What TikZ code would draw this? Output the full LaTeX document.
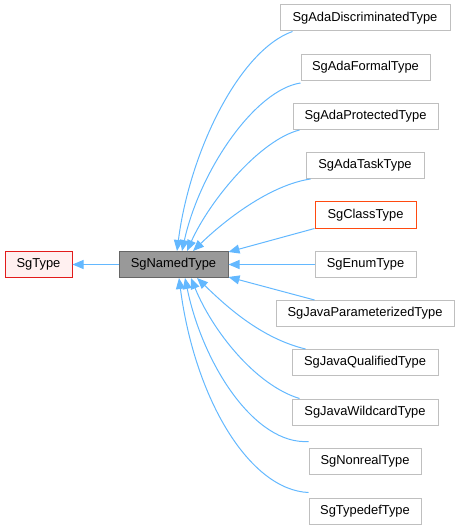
\documentclass[tikz,border=0pt]{standalone}
\usepackage{fontspec}
\setmainfont{Liberation Sans}
\usetikzlibrary{arrows.meta}
\definecolor{edgeblue}{HTML}{63B8FF}
\definecolor{boxgray}{HTML}{BFBFBF}
\definecolor{redborder}{HTML}{E21B1B}
\definecolor{redfill}{HTML}{FFF0F0}
\definecolor{namedfill}{HTML}{999999}
\definecolor{nameddraw}{HTML}{666666}
\definecolor{orangeborder}{HTML}{FF4A10}
\tikzset{
  cls/.style={draw=boxgray, line width=1pt, fill=white, minimum height=26pt, inner sep=0pt, font=\fontsize{12.9}{15}\selectfont, anchor=center},
  edge/.style={draw=edgeblue, line width=1pt, -{Triangle[length=11pt,width=9pt]}},
}
\begin{document}
\begin{tikzpicture}[x=1pt,y=-1pt]
\useasboundingbox (0,0) rectangle (460,529);
% nodes
\node[cls, draw=redborder, fill=redfill, minimum width=67pt] (type) at (38.5,264.5) {SgType};
\node[cls, draw=nameddraw, fill=namedfill, minimum width=109pt] (named) at (173.5,264.5) {SgNamedType};
\node[cls, minimum width=170pt] (disc) at (365,18) {SgAdaDiscriminatedType};
\node[cls, minimum width=129pt] (formal) at (365.5,67.5) {SgAdaFormalType};
\node[cls, minimum width=145pt] (prot) at (365.5,116.5) {SgAdaProtectedType};
\node[cls, minimum width=118pt] (task) at (365,165.5) {SgAdaTaskType};
\node[cls, draw=orangeborder, minimum width=101pt] (class) at (365.5,215) {SgClassType};
\node[cls, minimum width=101pt] (enum) at (365.5,264.5) {SgEnumType};
\node[cls, minimum width=178pt] (jparam) at (365,313.5) {SgJavaParameterizedType};
\node[cls, minimum width=146pt] (jqual) at (365,362.5) {SgJavaQualifiedType};
\node[cls, minimum width=146pt] (jwild) at (365,412) {SgJavaWildcardType};
\node[cls, minimum width=112pt] (nonreal) at (365,461) {SgNonrealType};
\node[cls, minimum width=112pt] (typedef) at (365,511) {SgTypedefType};
% coordinates on the boxes
\coordinate (ndisc) at ([xshift=13pt]disc.south west);
\coordinate (nformal) at ([yshift=-2pt]formal.south west);
\coordinate (nprot) at ([xshift=7pt]prot.south west);
\coordinate (ntask) at ([xshift=5pt]task.south west);
\coordinate (njqual) at ([xshift=14pt]jqual.north west);
\coordinate (njwild) at ([xshift=8pt]jwild.north west);
\coordinate (nnonreal) at ([yshift=6pt]nonreal.north west);
\coordinate (ntypedef) at ([yshift=5pt]typedef.north west);
% edges
\draw[edge] (named.west) -- (type.east);
\draw[edge] (ndisc) .. controls (240,50) and (190,150) .. ([xshift=-173.5pt+177pt]named.north);
\draw[edge] (nformal) .. controls (255,90) and (200,170) .. ([xshift=-173.5pt+182pt]named.north);
\draw[edge] (nprot) .. controls (260,140) and (210,200) .. ([xshift=-173.5pt+187pt]named.north);
\draw[edge] (ntask) .. controls (270,185) and (225,220) .. ([xshift=-173.5pt+193pt]named.north);
\draw[edge] (class.south west) -- ([yshift=-1pt]named.north east);
\draw[edge] (enum.west) -- (named.east);
\draw[edge] (jparam.north west -| enum.west) -- ([yshift=1pt]named.south east);
\draw[edge] (njqual) .. controls (260,338) and (225,305) .. ([xshift=-173.5pt+197pt]named.south);
\draw[edge] (njwild) .. controls (255,385) and (212,330) .. ([xshift=-173.5pt+191pt]named.south);
\draw[edge] (nnonreal) .. controls (255,445) and (203,365) .. ([xshift=-173.5pt+185pt]named.south);
\draw[edge] (ntypedef) .. controls (250,490) and (195,400) .. ([xshift=-173.5pt+179pt]named.south);
\end{tikzpicture}
\end{document}
